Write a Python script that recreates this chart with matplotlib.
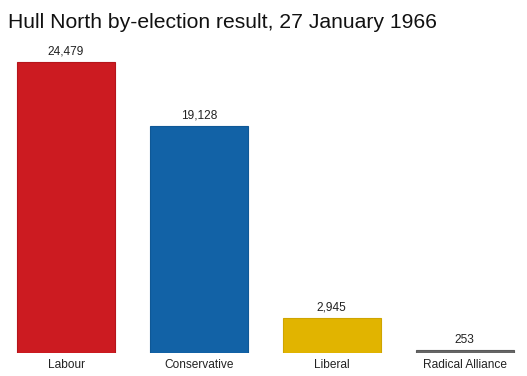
import matplotlib
matplotlib.use("Agg")
import matplotlib.pyplot as plt

parties = ["Labour", "Conservative", "Liberal", "Radical Alliance"]
votes = [24479, 19128, 2945, 253]
colors = ["#CC1B21", "#1262A6", "#E1B400", "#666666"]
edges = ["#B5151B", "#0F5896", "#CFA400", "#5A5A5A"]

plt.rcParams['font.family'] = ['Liberation Sans', 'DejaVu Sans']

fig = plt.figure(figsize=(5.27, 3.76), dpi=100)
ax = fig.add_axes([0, 23/376, 1, 313/376])
x = list(range(len(parties)))
ax.bar(x, votes, width=0.738, color=colors, edgecolor=edges, linewidth=0.8)
ax.set_xlim(-0.497, 3.470)
ax.set_ylim(0, 24479 * 313 / 291)
for xi, v in zip(x, votes):
    ax.annotate(f"{v:,}", (xi, v), xytext=(0, 4), textcoords="offset pixels",
                ha="center", va="bottom", fontsize=8.6, color="#222222")
ax.set_xticks(x)
ax.set_xticklabels(parties, fontsize=8.6, color="#222222")
ax.tick_params(axis='x', length=0, pad=4)
ax.set_yticks([])
for s in ax.spines.values():
    s.set_visible(False)
fig.text(8/527, 1 - 28/376, "Hull North by-election result, 27 January 1966",
         fontsize=15.25, ha="left", va="baseline", color="#111111")
fig.savefig("out.png", dpi=100)
